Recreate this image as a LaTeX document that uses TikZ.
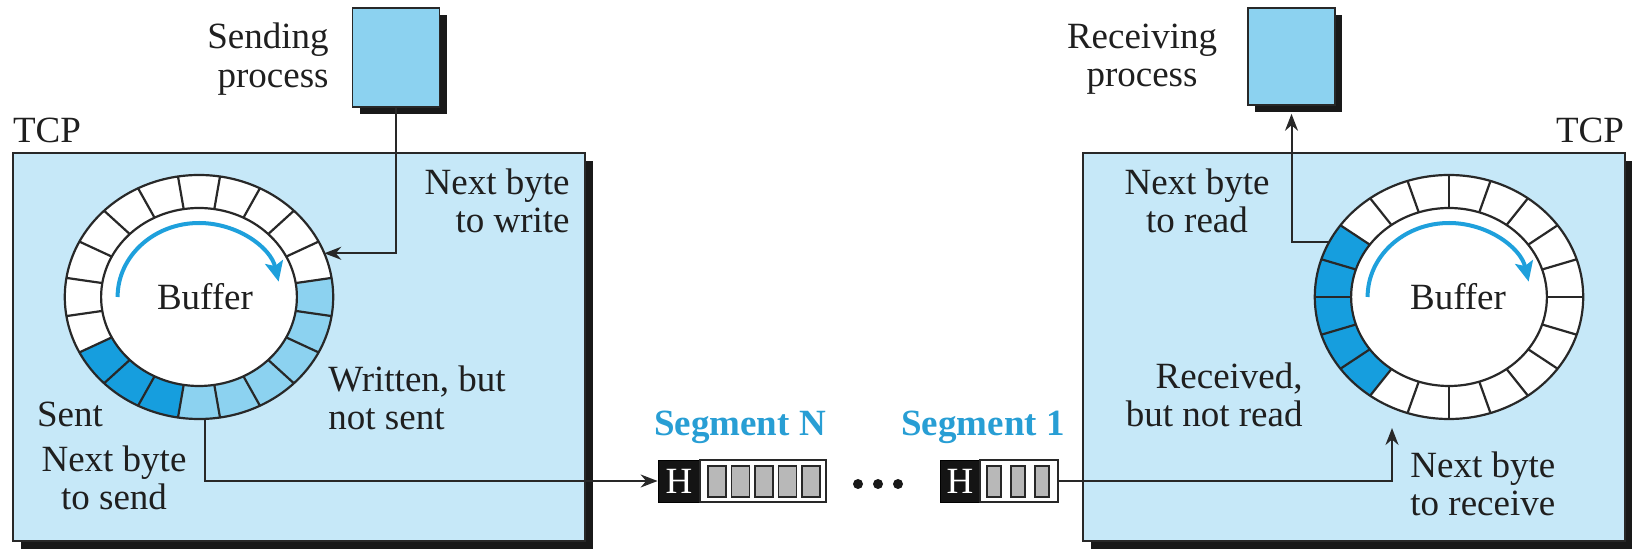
\documentclass[tikz,border=0pt]{standalone}
\usepackage{fontspec}
\setmainfont{Liberation Serif}
\usetikzlibrary{arrows.meta,shadows,calc}
\definecolor{tcpfill}{RGB}{198,232,248}
\definecolor{procfill}{RGB}{140,210,240}
\definecolor{lightcell}{RGB}{140,210,240}
\definecolor{darkcell}{RGB}{22,158,222}
\definecolor{arcblue}{RGB}{30,160,220}
\definecolor{segblue}{RGB}{40,158,212}
\definecolor{edge}{RGB}{40,40,40}
\begin{document}
\begin{tikzpicture}[x=0.5pt,y=-0.5pt,
  txt/.style={font=\fontsize{18.5pt}{19.3pt}\selectfont, inner sep=0pt, text=black!88},
  tcpbox/.style={draw=edge, line width=1pt, fill=tcpfill, inner sep=0pt,
     general shadow={fill=black!90, shadow xshift=4pt, shadow yshift=-4pt}},
  procbox/.style={draw=edge, line width=0.8pt, fill=procfill, inner sep=0pt,
     general shadow={fill=black!90, shadow xshift=3.5pt, shadow yshift=-3.5pt}},
  conn/.style={draw=edge, line width=1pt},
  arr/.style={conn, -{Stealth[length=8.5pt,width=6.5pt]}},
  ringline/.style={draw=edge, line width=1.1pt},
  arcarrow/.style={draw=arcblue, line width=2pt, -{Stealth[length=10pt,width=9pt,inset=2pt]}},
  seglabel/.style={txt, font=\fontsize{18.5pt}{19.3pt}\selectfont\bfseries, text=segblue},
  hbox/.style={fill=black!92, draw=black, text=white, inner sep=0pt, minimum height=21pt,
     font=\fontsize{18.5pt}{19.3pt}\selectfont},
  databox/.style={fill=white, draw=edge, line width=1pt, inner sep=0pt, minimum height=21pt},
  bar/.style={fill=black!28, draw=edge, line width=0.7pt}
]
\useasboundingbox (0,0) rectangle (1632,549);

% TCP boxes
\node[tcpbox, minimum width=286pt, minimum height=194pt] (tcpL) at (299,347) {};
\node[tcpbox, minimum width=271pt, minimum height=194pt] (tcpR) at (1354,347) {};

% process boxes
\node[procbox, minimum width=43.5pt, minimum height=49.5pt] (sendp) at (396,57.5) {};
\node[procbox, minimum width=43.5pt, minimum height=48.5pt] (recvp) at (1291.5,56.5) {};

% left ring
\begin{scope}[shift={(199,297)}, yscale=-1, xscale=1.1]
  \fill[white] (0,0) circle[radius=122];
  \foreach \a in {207,225,243}
    \fill[darkcell] (\a:89) -- (\a:122) arc[start angle=\a, delta angle=18, radius=122]
      -- ({\a+18}:89) arc[start angle=\a+18, delta angle=-18, radius=89] -- cycle;
  \foreach \a in {261,279,297,315,333,351}
    \fill[lightcell] (\a:89) -- (\a:122) arc[start angle=\a, delta angle=18, radius=122]
      -- ({\a+18}:89) arc[start angle=\a+18, delta angle=-18, radius=89] -- cycle;
  \draw[ringline] (0,0) circle[radius=122];
  \draw[ringline] (0,0) circle[radius=89];
  \foreach \a in {9,27,...,351}
    \draw[ringline] (\a:89) -- (\a:122);
  \draw[arcarrow] (180:74) arc[start angle=180, end angle=12, radius=74];
  \coordinate (wpt) at (21:122);
  \coordinate (spt) at (272.5:122);
\end{scope}

% right ring
\begin{scope}[shift={(1449,297)}, yscale=-1, xscale=1.1]
  \fill[white] (0,0) circle[radius=122];
  \foreach \a in {144,162,180,198,216}
    \fill[darkcell] (\a:89) -- (\a:122) arc[start angle=\a, delta angle=18, radius=122]
      -- ({\a+18}:89) arc[start angle=\a+18, delta angle=-18, radius=89] -- cycle;
  \draw[ringline] (0,0) circle[radius=122];
  \draw[ringline] (0,0) circle[radius=89];
  \foreach \a in {0,18,...,342}
    \draw[ringline] (\a:89) -- (\a:122);
  \draw[arcarrow] (180:74) arc[start angle=180, end angle=12, radius=74];
  \coordinate (rdpt) at (153:122);
\end{scope}
\coordinate (rcpt) at (1392,428);

% segments
\node[hbox, minimum width=21pt] (segN) at (679,481) {H};
\node[databox, minimum width=63pt] (segNd) at (763,481) {};
\foreach \i in {0,...,4}
  \draw[bar] ({708+23.5*\i},466) rectangle ++(18,31);
\node[hbox, minimum width=20pt] (seg1) at (960,481) {H};
\node[databox, minimum width=39pt] (seg1d) at (1019,481) {};
\foreach \i in {0,1,2}
  \draw[bar] ({987+24*\i},466) rectangle ++(14,31);
\fill[black!90] (858,484) circle[radius=5] (878,484) circle[radius=5] (898,484) circle[radius=5];
\node[seglabel] (labN) at (740,427) {Segment N};
\node[seglabel] (lab1) at (983,427) {Segment 1};

% connectors
\draw[arr] (sendp.south) |- (wpt);
\draw[arr] (spt) |- (segN.west);
\draw[arr] (seg1d.east) -| (rcpt);
\draw[arr, shorten >=4pt] (rdpt) -| (recvp.south);

% texts
\node[txt, align=right, anchor=east] (tsend) at (329,59) {Sending\\process};
\node[txt, align=center] (trecv) at (1142,59) {Receiving\\process};
\node[txt] (tcpl) at (47,130) {TCP};
\node[txt] (tcpr) at (1590,130) {TCP};
\node[txt, align=right, anchor=east] (twrite) at (570,201) {Next byte\\to write};
\node[txt, align=left, anchor=west] (twritten) at (328,398) {Written, but\\not sent};
\node[txt] (tsent) at (70,414) {Sent};
\node[txt, align=center] (tnsend) at (114,478) {Next byte\\to send};
\node[txt, align=center] (tread) at (1197,201) {Next byte\\to read};
\node[txt, align=right, anchor=east] (treceived) at (1303,395) {Received,\\but not read};
\node[txt, align=left, anchor=west] (treceive) at (1410,484) {Next byte\\to receive};
\node[txt] (bufL) at (205,297) {Buffer};
\node[txt] (bufR) at (1458,297) {Buffer};
\end{tikzpicture}
\end{document}
